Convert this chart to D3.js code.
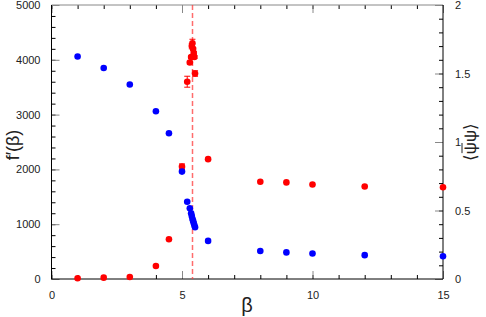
<!DOCTYPE html>
<html lang="en">
<head>
<meta charset="UTF-8">
<title>f'(beta) and chiral condensate</title>
<script src="https://d3js.org/d3.v7.min.js"></script>
<style>
  body { margin: 0; background: #fff; }
  text { font-family: "Liberation Sans", Arial, sans-serif; fill: #222; }
</style>
</head>
<body>
<svg id="chart" width="486" height="317"></svg>
<script>
// beta values (shared by both series)
const beta = [1, 2, 3, 4, 4.5, 5, 5.2, 5.3, 5.35, 5.375, 5.4, 5.425, 5.45, 5.475, 5.5, 6, 8, 9, 10, 12, 15];
// f'(beta), left axis (blue)
const fPrime = [4060, 3850, 3550, 3060, 2660, 1960, 1410, 1290, 1200, 1150, 1100, 1060, 1020, 980, 945, 695, 510, 485, 465, 435, 415];
// <psibar psi>, right axis (red)
const psi = [0.005, 0.01, 0.015, 0.095, 0.29, 0.82, 1.44, 1.58, 1.62, 1.70, 1.72, 1.68, 1.65, 1.62, 1.50, 0.875, 0.71, 0.705, 0.69, 0.675, 0.67];
const psiErr = [0, 0, 0, 0, 0, 0.02, 0.04, 0.01, 0.01, 0.02, 0.03, 0.01, 0.01, 0.01, 0.02, 0, 0, 0, 0, 0, 0];
const betaCrit = 5.37;

const xTicks = [0, 5, 10, 15];
const yLeftTicks = [0, 1000, 2000, 3000, 4000, 5000];
const yRightTicks = [0, 0.5, 1, 1.5, 2];

const svg = d3.select("#chart");
const pL = 51.5, pR = 443, pT = 5, pB = 279;

const x = d3.scaleLinear().domain([0, 15]).range([pL, pR]);
const yL = d3.scaleLinear().domain([0, 5000]).range([pB, pT]);
const yR = d3.scaleLinear().domain([0, 2]).range([pB, pT]);

// minor ticks (black, short) then major ticks (grey, longer)
function styleAxis(g, color) {
  g.select(".domain").remove();
  g.selectAll(".tick line").attr("stroke", color);
  g.selectAll(".tick text").attr("font-size", 11).attr("fill", "#222")
    .attr("font-family", "Liberation Sans, Arial, sans-serif");
}

const xMinor = d3.range(0, 16, 1);
const yLMinor = d3.range(0, 5001, 200);
const yRMinor = d3.range(0, 2.01, 0.1);

// bottom
svg.append("g").attr("transform", `translate(0,${pB})`)
  .call(d3.axisBottom(x).tickValues(xMinor).tickSize(-4).tickFormat(""))
  .call(g => styleAxis(g, "#000"));
svg.append("g").attr("transform", `translate(0,${pB})`)
  .call(d3.axisBottom(x).tickValues(xTicks).tickSize(-8).tickPadding(12).tickFormat(d3.format("d")))
  .call(g => styleAxis(g, "#888"));
// top
svg.append("g").attr("transform", `translate(0,${pT})`)
  .call(d3.axisTop(x).tickValues(xMinor).tickSize(-4).tickFormat(""))
  .call(g => styleAxis(g, "#000"));
svg.append("g").attr("transform", `translate(0,${pT})`)
  .call(d3.axisTop(x).tickValues(xTicks).tickSize(-8).tickFormat(""))
  .call(g => styleAxis(g, "#888"));
// left
svg.append("g").attr("transform", `translate(${pL},0)`)
  .call(d3.axisLeft(yL).tickValues(yLMinor).tickSize(-4).tickFormat(""))
  .call(g => styleAxis(g, "#000"));
svg.append("g").attr("transform", `translate(${pL},0)`)
  .call(d3.axisLeft(yL).tickValues(yLeftTicks).tickSize(-8).tickPadding(11).tickFormat(d3.format("d")))
  .call(g => styleAxis(g, "#888"));
// right
svg.append("g").attr("transform", `translate(${pR},0)`)
  .call(d3.axisRight(yR).tickValues(yRMinor).tickSize(-4).tickFormat(""))
  .call(g => styleAxis(g, "#000"));
svg.append("g").attr("transform", `translate(${pR},0)`)
  .call(d3.axisRight(yR).tickValues(yRightTicks).tickSize(-8).tickPadding(12).tickFormat(d => d))
  .call(g => styleAxis(g, "#888"));

// frame
svg.append("line").attr("x1", pL).attr("x2", pR).attr("y1", pT).attr("y2", pT).attr("stroke", "#888");
svg.append("line").attr("x1", pL).attr("x2", pR).attr("y1", pB).attr("y2", pB).attr("stroke", "#000");
svg.append("line").attr("x1", pL).attr("x2", pL).attr("y1", pT).attr("y2", pB).attr("stroke", "#000");
svg.append("line").attr("x1", pR).attr("x2", pR).attr("y1", pT).attr("y2", pB).attr("stroke", "#000");

// critical beta
svg.append("line")
  .attr("x1", Math.round(x(betaCrit)) + 0.5).attr("x2", Math.round(x(betaCrit)) + 0.5)
  .attr("y1", pT).attr("y2", pB)
  .attr("stroke", "#ff3b3b").attr("stroke-opacity", 0.75).attr("stroke-width", 1.5)
  .attr("stroke-dasharray", "5,3");

const pts = beta.map((b, i) => ({ b, f: fPrime[i], p: psi[i], e: psiErr[i] }));

// red error bars
const errs = svg.append("g").attr("stroke", "#f00").attr("stroke-width", 1);
pts.filter(d => d.e > 0).forEach(d => {
  errs.append("line").attr("x1", x(d.b)).attr("x2", x(d.b)).attr("y1", yR(d.p - d.e)).attr("y2", yR(d.p + d.e));
  errs.append("line").attr("x1", x(d.b) - 3).attr("x2", x(d.b) + 3).attr("y1", yR(d.p - d.e)).attr("y2", yR(d.p - d.e));
  errs.append("line").attr("x1", x(d.b) - 3).attr("x2", x(d.b) + 3).attr("y1", yR(d.p + d.e)).attr("y2", yR(d.p + d.e));
});

svg.append("g").selectAll("circle").data(pts).join("circle")
  .attr("cx", d => x(d.b)).attr("cy", d => yR(d.p)).attr("r", 3.3).attr("fill", "#f00");

svg.append("g").selectAll("circle").data(pts).join("circle")
  .attr("cx", d => x(d.b)).attr("cy", d => yL(d.f)).attr("r", 3.3).attr("fill", "#00f");

// axis titles
svg.append("text").attr("x", 247).attr("y", 312).attr("text-anchor", "middle")
  .attr("font-size", 20).text("β");
svg.append("text").attr("transform", `translate(19,145) rotate(-90)`).attr("text-anchor", "middle")
  .attr("font-size", 18).text("f′(β)");

// right title: <psibar psi>, bar drawn over the first psi
const rt = svg.append("g").attr("transform", `translate(476,142) rotate(-90)`);
const rtText = rt.append("text").attr("text-anchor", "middle").attr("font-size", 17).text("⟨ψψ⟩");
const n = rtText.node();
const s = n.getStartPositionOfChar(1), e = n.getEndPositionOfChar(1);
rt.append("line").attr("x1", s.x + 1).attr("x2", e.x - 1).attr("y1", -14).attr("y2", -14)
  .attr("stroke", "#222").attr("stroke-width", 1);
</script>
</body>
</html>
